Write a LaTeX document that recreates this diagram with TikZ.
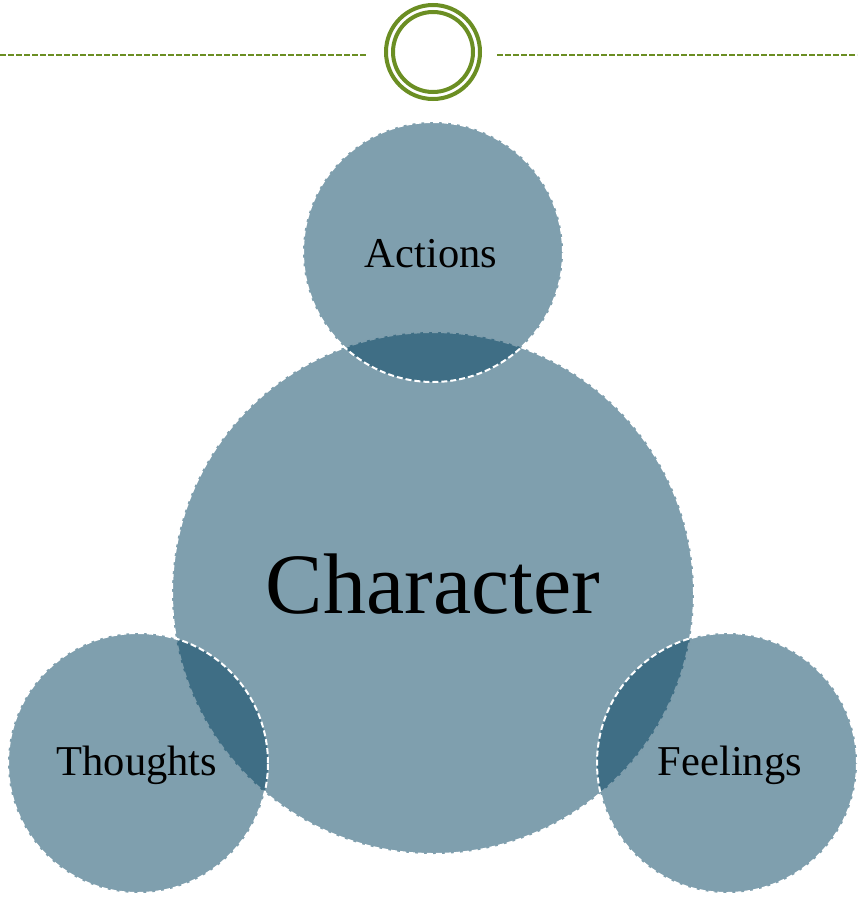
\documentclass[tikz,border=0pt]{standalone}
\usepackage{fontspec}
\setmainfont{Liberation Serif}
\definecolor{bubble}{RGB}{0,63,93}
\definecolor{olive}{RGB}{107,142,35}
\tikzset{
  bubblestyle/.style={circle, fill=bubble, fill opacity=0.5, draw=white, draw opacity=1, line width=2pt, dash pattern=on 6pt off 3pt, inner sep=0pt},
  ringline/.style={draw=olive, line width=2pt, dash pattern=on 5.5pt off 2.5pt},
  ringstyle/.style={circle, draw=olive, line width=4pt, inner sep=0pt},
  smalllabel/.style={anchor=base, font=\fontsize{42.5}{48}\selectfont, text=black, inner sep=0pt},
  biglabel/.style={anchor=base, font=\fontsize{86}{96}\selectfont, text=black, inner sep=0pt}
}
\begin{document}
\begin{tikzpicture}[x=1pt,y=-1pt]
\useasboundingbox (0,0) rectangle (857,897);
% header
\node[ringstyle, minimum size=94pt] (ringout) at (433,52) {};
\node[ringstyle, minimum size=80pt] (ringin) at (433,52) {};
\coordinate (lstart) at (0,55);
\coordinate (lend) at (367,55);
\coordinate (rstart) at (497,55);
\coordinate (rend) at (857,55);
\draw[ringline] (lstart) -- (lend);
\draw[ringline] (rstart) -- (rend);
% circles
\node[bubblestyle, minimum size=522pt] (char) at (433,593) {};
\node[bubblestyle, minimum size=260pt] (act) at (433,252) {};
\node[bubblestyle, minimum size=260pt] (tho) at (138,763) {};
\node[bubblestyle, minimum size=260pt] (fee) at (727,763) {};
% labels
\node[biglabel] (charl) at (433,613) {Character};
\node[smalllabel] (actl) at (431,267) {Actions};
\node[smalllabel] (thol) at (137,775) {Thoughts};
\node[smalllabel] (feel) at (730,775) {Feelings};
\end{tikzpicture}
\end{document}
